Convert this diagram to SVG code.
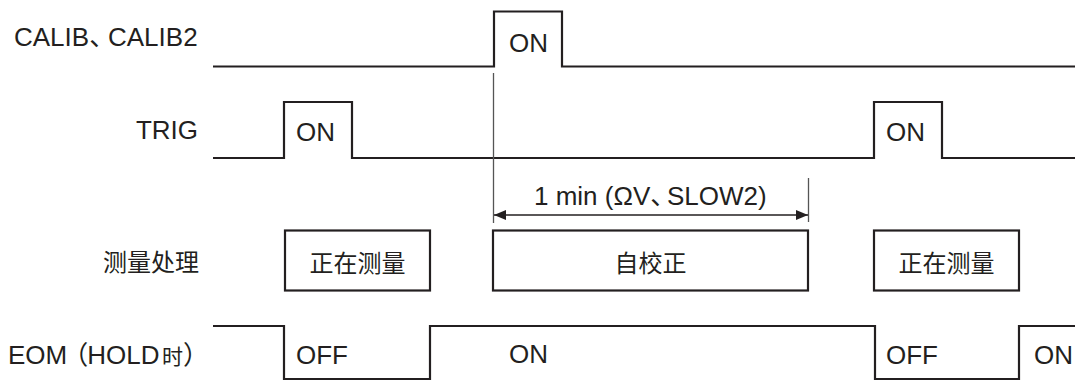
<svg xmlns="http://www.w3.org/2000/svg" width="1075" height="381" viewBox="0 0 1075 381">
<style>
text{font-family:"Liberation Sans","Noto Sans CJK SC",sans-serif;font-size:26px;fill:#231f20}
.cjk{font-size:24px}
.sig{fill:none;stroke:#231f20;stroke-width:2.2}
.box{fill:none;stroke:#231f20;stroke-width:2.2}
.ref{stroke:#555;stroke-width:1.3}
.dim{stroke:#231f20;stroke-width:1.3;fill:none}
</style>
<defs>
<marker id="ah" viewBox="0 0 12 10" refX="12" refY="5" markerWidth="12" markerHeight="10" markerUnits="userSpaceOnUse" orient="auto-start-reverse">
<path d="M0,0 L12,5 L0,10 Z" fill="#231f20"/>
</marker>
</defs>
<g id="labels">
<text x="14" y="46">CALIB、<tspan x="108">CALIB2</tspan></text>
<text x="198" y="139" text-anchor="end">TRIG</text>
<text class="cjk" x="199" y="271" text-anchor="end">测量处理</text>
<text x="8" y="364" dx="0 0 0 -5 -1">EOM（HOLD<tspan x="162" font-size="21">时</tspan><tspan x="183">）</tspan></text>
</g>
<g id="calib">
<path class="sig" d="M213,66.5 H494 V11.5 H562 V66.5 H1075"/>
<text x="509" y="52">ON</text>
</g>
<g id="trig">
<path class="sig" d="M213,158 H284 V102 H352 V158 H874 V102 H942 V158 H1075"/>
<text x="296" y="141">ON</text>
<text x="886" y="141">ON</text>
</g>
<g id="measure">
<rect class="box" x="285" y="230.5" width="145" height="60"/>
<text class="cjk" x="357.5" y="272" text-anchor="middle">正在测量</text>
<rect class="box" x="493" y="230.5" width="315" height="60"/>
<text class="cjk" x="650.5" y="272" text-anchor="middle">自校正</text>
<rect class="box" x="874" y="230.5" width="145" height="60"/>
<text class="cjk" x="946.5" y="272" text-anchor="middle">正在测量</text>
</g>
<g id="eom">
<path class="sig" d="M213,326 H284 V379 H430 V326 H875 V379 H1019 V326 H1075"/>
<text x="296" y="364">OFF</text>
<text x="509" y="363">ON</text>
<text x="886" y="364">OFF</text>
<text x="1034" y="364">ON</text>
</g>
<g id="connectors">
<line class="ref" x1="493.5" y1="73" x2="493.5" y2="223"/>
<line class="ref" x1="808.5" y1="178" x2="808.5" y2="222"/>
<line class="dim" x1="494" y1="215" x2="808" y2="215" marker-start="url(#ah)" marker-end="url(#ah)"/>
<text x="534" y="205">1 min (ΩV、<tspan x="667">SLOW2)</tspan></text>
</g>
</svg>
